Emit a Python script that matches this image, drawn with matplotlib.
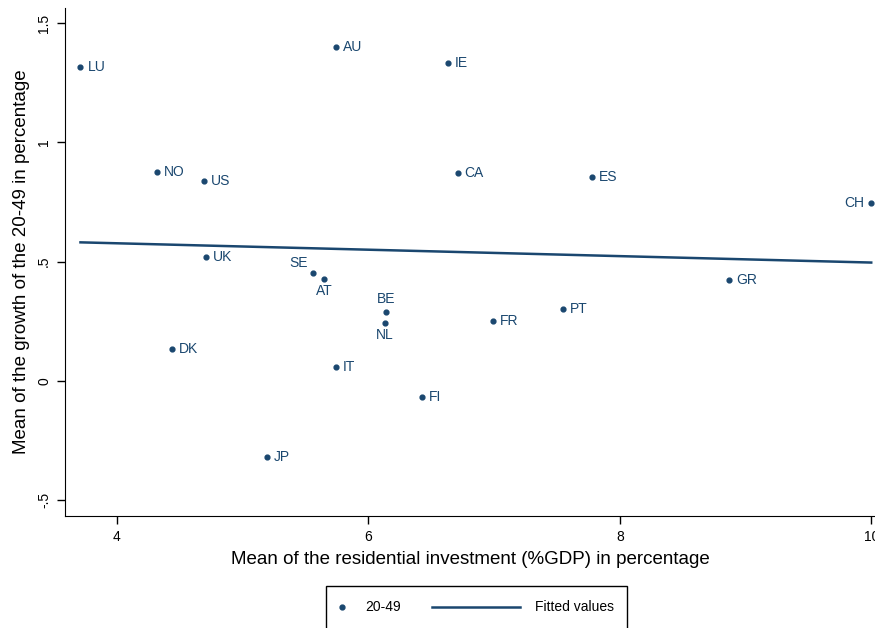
import numpy as np
import matplotlib
matplotlib.use("Agg")
import matplotlib.pyplot as plt
from matplotlib.patches import Rectangle
from matplotlib.lines import Line2D

plt.rcParams['font.family'] = ['Liberation Sans', 'DejaVu Sans']

# Data
countries = ["LU", "AU", "IE", "NO", "US", "CA", "ES", "CH", "UK", "SE",
             "AT", "BE", "NL", "FR", "PT", "GR", "DK", "IT", "FI", "JP"]
invest = [3.71, 5.74, 6.63, 4.32, 4.69, 6.71, 7.78, 10.00, 4.71, 5.56,
          5.65, 6.14, 6.13, 6.99, 7.55, 8.87, 4.44, 5.74, 6.43, 5.19]
growth = [1.316, 1.400, 1.333, 0.876, 0.838, 0.872, 0.855, 0.746, 0.520, 0.453,
          0.427, 0.289, 0.243, 0.251, 0.302, 0.423, 0.134, 0.059, -0.067, -0.319]
# label placement (clock position like Stata mlabvposition)
label_pos = {"SE": "upleft", "AT": "below", "BE": "above", "NL": "below", "CH": "left"}

navy = "#1a476f"

x = np.array(invest)
y = np.array(growth)
slope, intercept = np.polyfit(x, y, 1)
xfit = np.array([x.min(), x.max()])
yfit = slope * xfit + intercept

fig = plt.figure(figsize=(8.75, 6.28), dpi=100)
ax = fig.add_axes([65 / 875, 112 / 628, 810 / 875, 508 / 628])

ax.scatter(x, y, s=12, color=navy, zorder=3)
ax.plot(xfit, yfit, color=navy, lw=1.8, zorder=2)

for name, xi, yi in zip(countries, x, y):
    pos = label_pos.get(name, "right")
    if pos == "right":
        ax.annotate(name, (xi, yi), xytext=(5, 0), textcoords="offset points",
                    ha="left", va="center", fontsize=10, color=navy)
    elif pos == "left":
        ax.annotate(name, (xi, yi), xytext=(-5, 0), textcoords="offset points",
                    ha="right", va="center", fontsize=10, color=navy)
    elif pos == "above":
        ax.annotate(name, (xi, yi), xytext=(0, 4), textcoords="offset points",
                    ha="center", va="bottom", fontsize=10, color=navy)
    elif pos == "below":
        ax.annotate(name, (xi, yi), xytext=(0, -4), textcoords="offset points",
                    ha="center", va="top", fontsize=10, color=navy)
    elif pos == "upleft":
        ax.annotate(name, (xi, yi), xytext=(-4, 2), textcoords="offset points",
                    ha="right", va="bottom", fontsize=10, color=navy)

ax.set_xlim(3.587, 10.03)
ax.set_ylim(-0.567, 1.563)
ax.set_xticks([4, 6, 8, 10])
ax.set_xticklabels(["4", "6", "8", "10"])
ax.set_yticks([-0.5, 0, 0.5, 1, 1.5])
ax.set_yticklabels(["-.5", "0", ".5", "1", "1.5"], rotation=90, va="center")
ax.tick_params(direction="out", length=6, width=1, labelsize=10, colors="black", pad=4)
ax.spines["top"].set_visible(False)
ax.spines["right"].set_visible(False)
ax.set_xlabel("Mean of the residential investment (%GDP) in percentage", fontsize=13.5, labelpad=5)
ax.set_ylabel("Mean of the growth of the 20-49 in percentage", fontsize=13.5, labelpad=5)

# legend box, cut off by the bottom edge like the original
fig.patches.append(Rectangle((326 / 875, -0.01), 301 / 875, (42 / 628) + 0.01,
                             transform=fig.transFigure, fill=False,
                             edgecolor="black", lw=1))
ly = 21 / 628
fig.add_artist(Line2D([342 / 875], [ly], marker="o", ls="", color=navy, markersize=3.5,
                      transform=fig.transFigure))
fig.text(365 / 875, ly, "20-49", ha="left", va="center", fontsize=10)
fig.add_artist(Line2D([432 / 875, 520 / 875], [ly, ly], color=navy, lw=1.8,
                      transform=fig.transFigure))
fig.text(535 / 875, ly, "Fitted values", ha="left", va="center", fontsize=10)

fig.savefig("out.png", dpi=100)
